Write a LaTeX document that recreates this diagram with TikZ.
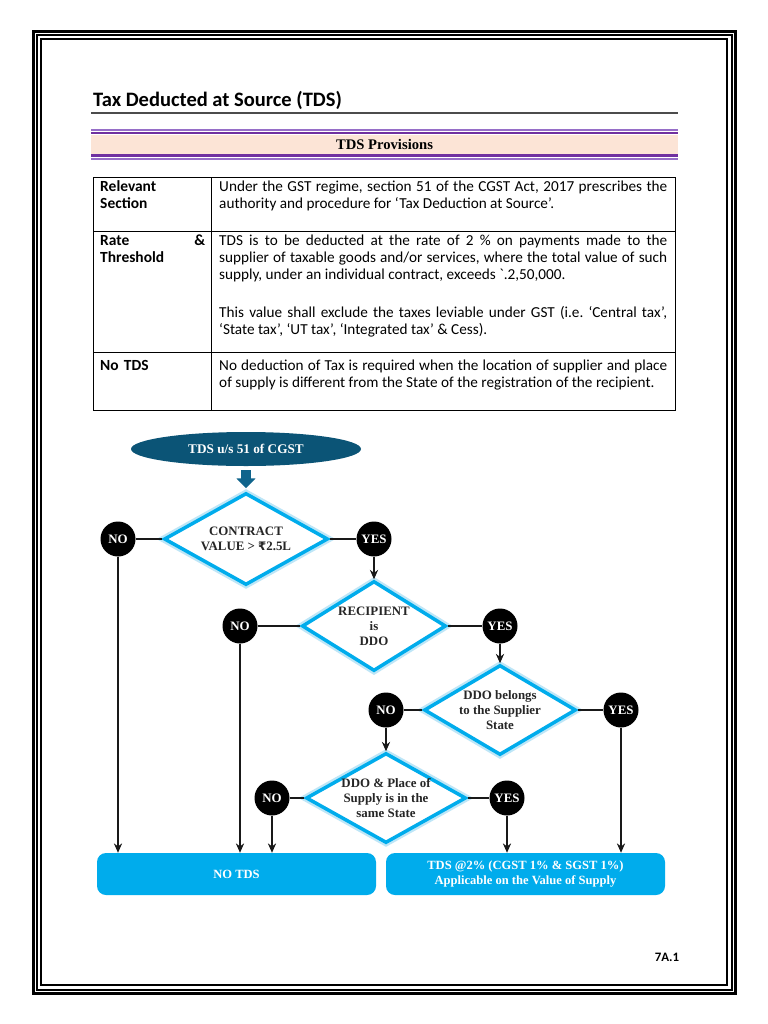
\documentclass[tikz,border=0pt]{standalone}
\usepackage{fontspec}
\setmainfont{Carlito}
\newfontfamily\tnr{Liberation Serif}
\newfontfamily\rupeefont{DejaVu Sans}
\usetikzlibrary{positioning,arrows.meta,shapes.geometric,calc}
\newlength{\pxu}\setlength{\pxu}{0.03cm}
\definecolor{tdscyan}{RGB}{0,172,236}
\definecolor{tdsglow}{RGB}{190,230,247}
\definecolor{tdsnavy}{RGB}{11,84,118}
\definecolor{tdsteal}{RGB}{16,100,140}
\definecolor{darkpurple}{RGB}{112,48,160}
\definecolor{lightpurple}{RGB}{150,110,200}
\definecolor{peach}{RGB}{252,228,214}

\begin{document}
\begin{tikzpicture}[x=1\pxu, y=-1\pxu, >={Stealth[length=8pt,width=7pt]},
    decision/.style={diamond, aspect=1.8, draw=tdscyan, line width=3.5\pxu, fill=white, inner sep=0pt, align=center,
      font=\tnr\bfseries\fontsize{11}{12.8}\selectfont, text=black!85,
      execute at begin node={\rule{0pt}{12.5pt}},
      preaction={draw=tdsglow, line width=8\pxu}},
    answer/.style={circle, fill=black, text=white, minimum size=35\pxu, inner sep=0pt,
      font=\tnr\bfseries\fontsize{11}{12}\selectfont},
    result/.style={rounded corners=9\pxu, fill=tdscyan, text=white, align=center,
      minimum height=42\pxu, minimum width=279\pxu, font=\tnr\bfseries\fontsize{10.7}{13}\selectfont},
    flow/.style={->, line width=1.7\pxu, black!90},
    link/.style={line width=1.7\pxu, black!90},
    celltext/.style={anchor=base west, inner sep=0pt, text width=448\pxu, align=justify,
      font=\fontsize{13}{14.6}\selectfont\frenchspacing},
    cellhead/.style={anchor=base west, inner sep=0pt, text width=105\pxu, align=left,
      font=\bfseries\fontsize{13.2}{14.6}\selectfont}
  ]
  \useasboundingbox[fill=white] (0,0) rectangle (768,1024);

  % page frame
  \draw[line width=3\pxu] (33,31) rectangle (735.5,993);
  \draw[line width=2\pxu] (36.5,34.5) rectangle (732,989.5);
  \draw[line width=2\pxu] (40.5,38.5) rectangle (727,985);

  % heading
  \node[anchor=base west, inner sep=0pt, font=\bfseries\fontsize{17.5}{20}\selectfont] (title) at (93,106.5) {Tax Deducted at Source (TDS)};
  \draw[line width=1.2\pxu, black!70] (91,113) -- (678,113);

  \fill[peach] (91,135) rectangle (678,154);
  \draw[lightpurple, line width=1.5\pxu] (91,130) -- (678,130);
  \draw[darkpurple, line width=2.5\pxu] (91,133) -- (678,133);
  \draw[darkpurple, line width=3.5\pxu] (91,155.5) -- (678,155.5);
  \draw[lightpurple, line width=1.5\pxu] (91,159) -- (678,159);
  \node[font=\tnr\bfseries\fontsize{12.5}{14}\selectfont] (provisions) at (384.5,144.5) {TDS Provisions};

  % table
  \draw[line width=1\pxu] (93,177) rectangle (675,410);
  \draw[line width=1\pxu] (211,177) -- (211,410);
  \draw[line width=1\pxu] (93,231) -- (675,231);
  \draw[line width=1\pxu] (93,352) -- (675,352);

  \node[cellhead] (sechead) at (100,191.5) {Relevant\\Section};
  \node[celltext] (secdef) at (219,191.5) {Under the GST regime, section 51 of the CGST Act, 2017 prescribes the\linebreak authority and procedure for ‘Tax Deduction at Source’.};
  \node[cellhead] (ratehead) at (100,245.5) {Rate \hfill \&\\Threshold};
  \node[celltext] (ratedef) at (219,245.5) {TDS is to be deducted at the rate of 2 \% on payments made to the\linebreak supplier of taxable goods and/or services, where the total value of such\linebreak supply, under an individual contract, exceeds \textasciigrave.2,50,000.};
  \node[celltext] (ratenote) at (219,317.5) {This value shall exclude the taxes leviable under GST (i.e. ‘Central tax’,\linebreak ‘State tax’, ‘UT tax’, ‘Integrated tax’ \& Cess).};
  \node[cellhead] (notdshead) at (100,370.5) {No TDS};
  \node[celltext] (notdsdef) at (219,370.5) {No deduction of Tax is required when the location of supplier and place\linebreak of supply is different from the State of the registration of the recipient.};

  % flow chart
  \node[ellipse, fill=tdsnavy, minimum width=230\pxu, minimum height=34\pxu, text=white,
    font=\tnr\bfseries\fontsize{11.3}{13}\selectfont] (root) at (246,449) {TDS u/s 51 of CGST};

  \node[decision, minimum width=164\pxu, minimum height=92\pxu] (contract) at (246,539) {CONTRACT\\VALUE > {\rupeefont\fontsize{10}{12}\selectfont ₹}2.5L};
  \node[answer] (no1) at (118,539) {NO};
  \node[answer] (yes1) at (374,539) {YES};

  \node[decision, minimum width=144\pxu, minimum height=90\pxu] (recipient) at (374,626) {RECIPIENT\\is\\DDO};
  \node[answer] (no2) at (240,626) {NO};
  \node[answer] (yes2) at (500,626) {YES};

  \node[decision, minimum width=144\pxu, minimum height=90\pxu] (supplier) at (500,710) {DDO belongs\\to the Supplier\\State};
  \node[answer] (no3) at (386,710) {NO};
  \node[answer] (yes3) at (621,710) {YES};

  \node[decision, minimum width=160\pxu, minimum height=90\pxu] (place) at (386,798) {DDO \& Place of\\Supply is in the\\same State};
  \node[answer] (no4) at (272,798) {NO};
  \node[answer] (yes4) at (507,798) {YES};

  \node[result] (notds) at (236.5,874) {NO TDS};
  \node[result] (tdsapply) at (525.5,874) {TDS @2\% (CGST 1\% \& SGST 1\%)\\Applicable on the Value of Supply};

  \coordinate (drop) at ($(root.south)+(0,4)$);
  \draw[tdsteal, line width=10\pxu, -{Triangle[length=8.5pt,width=16pt]}] (drop) -- ($(contract.north)+(0,-3)$);

  \draw[link] (no1) -- (contract);
  \draw[link] (contract) -- (yes1);
  \draw[link] (no2) -- (recipient);
  \draw[link] (recipient) -- (yes2);
  \draw[link] (no3) -- (supplier);
  \draw[link] (supplier) -- (yes3);
  \draw[link] (no4) -- (place);
  \draw[link] (place) -- (yes4);

  \draw[flow] (yes1) -- (recipient);
  \draw[flow] (yes2) -- (supplier);
  \draw[flow] (no3) -- (place);
  \draw[flow] (no1) -- (no1 |- notds.north);
  \draw[flow] (no2) -- (no2 |- notds.north);
  \draw[flow] (no4) -- (no4 |- notds.north);
  \draw[flow] (yes4) -- (yes4 |- tdsapply.north);
  \draw[flow] (yes3) -- (yes3 |- tdsapply.north);

  \node[font=\bfseries\fontsize{11}{13}\selectfont] (pageno) at (667,957) {7A.1};
\end{tikzpicture}
\end{document}
